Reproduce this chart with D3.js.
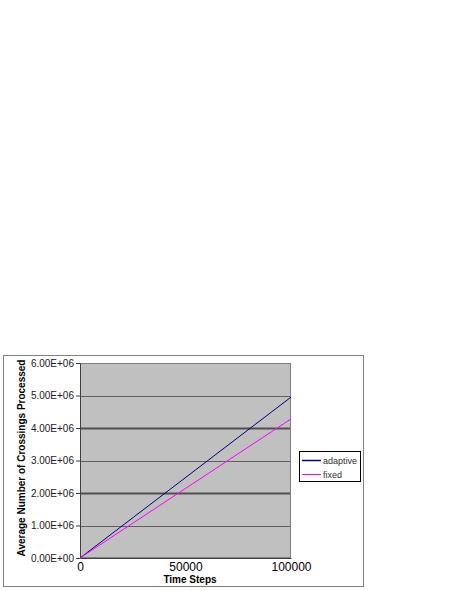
<!DOCTYPE html>
<html>
<head>
<meta charset="utf-8">
<script src="https://cdn.jsdelivr.net/npm/d3@7"></script>
<style>
    body { margin: 0; background: #fff; }
    svg { display: block; font-family: Arial, 'Liberation Sans', sans-serif; }
</style>
</head>
<body>
<div id="chart"></div>
<script>
// data
const timeSteps = [0, 100000]
const adaptive = [0, 4.95e6]
const fixed = [0, 4.28e6]
const seriesNames = ['adaptive', 'fixed']
const seriesColors = ['#000080', '#ff00ff']
const yTicks = [0, 1e6, 2e6, 3e6, 4e6, 5e6, 6e6]
const xTicks = [0, 50000, 100000]
const thickGrid = [2e6, 4e6]

const width = 457
const height = 591
const plot = { left: 80, top: 363, right: 291, bottom: 558 }

const svg = d3.select('#chart').append('svg').attr('width', width).attr('height', height)

// outer frame
svg.append('rect')
    .attr('x', 3.5).attr('y', 355.5)
    .attr('width', 360).attr('height', 231)
    .attr('fill', '#fff').attr('stroke', '#808080')

const x = d3.scaleLinear().domain([0, 100000]).range([plot.left, plot.right])
const y = d3.scaleLinear().domain([0, 6e6]).range([plot.bottom, plot.top])

// plot area
svg.append('rect')
    .attr('x', plot.left).attr('y', plot.top)
    .attr('width', plot.right - plot.left).attr('height', plot.bottom - plot.top)
    .attr('fill', '#c0c0c0')

// grid lines
svg.append('g').selectAll('line')
    .data(yTicks.filter((d) => d > 0 && d < 6e6))
    .enter()
    .append('line')
    .attr('x1', plot.left).attr('x2', plot.right)
    .attr('y1', (d) => Math.round(y(d)) + 0.5).attr('y2', (d) => Math.round(y(d)) + 0.5)
    .attr('stroke', (d) => (thickGrid.includes(d) ? '#505050' : '#606060'))
    .attr('stroke-width', (d) => (thickGrid.includes(d) ? 2 : 1))

// plot border
svg.append('rect')
    .attr('x', plot.left + 0.5).attr('y', plot.top + 0.5)
    .attr('width', plot.right - plot.left - 1).attr('height', plot.bottom - plot.top - 1)
    .attr('fill', 'none').attr('stroke', '#808080')

// y axis
const yAxis = d3.axisLeft(y)
    .tickValues(yTicks)
    .tickSize(4)
    .tickPadding(2)
    .tickFormat((d) => (d / 1e6).toFixed(2) + 'E+' + (d === 0 ? '00' : '06'))
const gY = svg.append('g').attr('transform', `translate(${plot.left},0)`).call(yAxis)
gY.select('.domain').attr('stroke', '#404040')
gY.selectAll('line').attr('stroke', '#404040')
gY.selectAll('text').style('font-size', '10px').attr('fill', '#202020')

// x axis
const xAxis = d3.axisBottom(x).tickValues(xTicks).tickSize(0).tickPadding(4).tickFormat((d) => d)
const gX = svg.append('g').attr('transform', `translate(0,${plot.bottom})`).call(xAxis)
gX.select('.domain').attr('stroke', '#404040')
gX.selectAll('text').style('font-size', '12px').attr('fill', '#000')

// axis titles
svg.append('text')
    .attr('x', 190).attr('y', 583)
    .attr('text-anchor', 'middle')
    .style('font-size', '10px').style('font-weight', 'bold')
    .text('Time Steps')

svg.append('text')
    .attr('transform', 'translate(25,458) rotate(-90)')
    .attr('text-anchor', 'middle')
    .style('font-size', '10px').style('font-weight', 'bold')
    .text('Average Number of Crossings Processed')

// series
const seriesData = [adaptive, fixed]
const line = d3.line().x((d) => x(d[0])).y((d) => y(d[1]))
seriesData.forEach((vals, i) => {
    svg.append('path')
        .datum(timeSteps.map((t, j) => [t, vals[j]]))
        .attr('d', line)
        .attr('fill', 'none')
        .attr('stroke', seriesColors[i])
        .attr('stroke-width', 1)
})

// legend
const legend = svg.append('g')
legend.append('rect')
    .attr('x', 299.5).attr('y', 451.5)
    .attr('width', 61).attr('height', 30)
    .attr('fill', '#fff').attr('stroke', '#000')
seriesNames.forEach((name, i) => {
    const ly = 460 + i * 14
    legend.append('line')
        .attr('x1', 302).attr('x2', 321)
        .attr('y1', ly + 0.5).attr('y2', ly + 0.5)
        .attr('stroke', seriesColors[i])
        .attr('stroke-width', i === 0 ? 1.5 : 1)
    legend.append('text')
        .attr('x', 323).attr('y', ly + 3.5)
        .style('font-size', '9px').attr('fill', '#303030')
        .text(name)
})
</script>
</body>
</html>
